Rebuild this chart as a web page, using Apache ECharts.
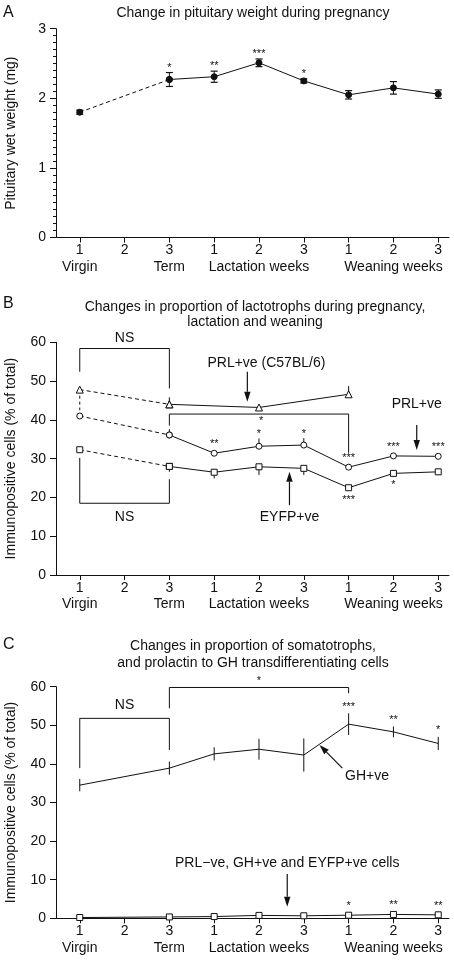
<!DOCTYPE html>
<html><head><meta charset="utf-8">
<script src="https://cdn.jsdelivr.net/npm/echarts@6/dist/echarts.min.js"></script>
<style>html,body{margin:0;padding:0;background:#fff}#c{width:454px;height:960px}</style>
</head><body><div id="c"></div>
<script>
// ---------- data ----------
const xTickNumbers = ['1','2','3','1','2','3','1','2','3'];
const phaseLabels = ['Virgin','','Term','','Lactation weeks','','','Weaning weeks',''];
// Panel A
const pituitaryWeight = [1.80, null, 2.27, 2.31, 2.51, 2.25, 2.05, 2.15, 2.06];
const pituitaryErr    = [0.03, null, 0.10, 0.08, 0.055, 0.03, 0.06, 0.09, 0.06];
const pituitaryStars  = ['', '', '*', '**', '***', '*', '', '', ''];
// Panel B
const prlC57      = [47.8, null, 44.0, null, 43.2, null, 46.6, null, null];
const prlC57Err   = [-5.3, null, 1.8, null, 0, null, 2.1, null, null];
const prlPos      = [41.0, null, 36.1, 31.4, 33.2, 33.5, 27.8, 30.7, 30.6];
const prlPosErr   = [0, null, 1.5, 0, 2.0, 1.8, 0, 0, 0];
const prlPosStars = ['', '', '', '**', '*', '*', '***', '***', '***'];
const eyfpPos      = [32.3, null, 28.0, 26.5, 27.9, 27.5, 22.5, 26.2, 26.6];
const eyfpPosErr   = [0, null, -1.4, -1.6, -2.1, -1.7, 0, 0, -0.8];
const eyfpPosStars = ['', '', '', '', '', '', '***', '*', ''];
// Panel C
const ghPos      = [34.5, null, 38.9, 42.6, 43.8, 42.3, 50.3, 48.3, 45.3];
const ghPosErr   = [1.6, null, 1.7, 1.7, 2.7, 4.3, 2.8, 1.4, 1.7];
const ghPosStars = ['', '', '', '', '', '', '***', '**', '*'];
const transdiff      = [0.2, null, 0.35, 0.45, 0.75, 0.65, 0.8, 1.0, 0.9];
const transdiffStars = ['', '', '', '', '', '', '*', '**', '**'];

// ---------- helpers ----------
const FONT = '"Liberation Sans", Arial, Helvetica, sans-serif';
const INK = '#111';
const STAR_SIZE = 11;
const idx = xTickNumbers.map((_, i) => i);

function pts(vals, from, to) {
  const r = [];
  for (let i = from; i <= to; i++) if (vals[i] != null) r.push([i, vals[i]]);
  return r;
}
function xAxis(g) {
  return {
    type: 'value', gridIndex: g, min: -0.53, max: 8.24,
    axisLine: { show: true, onZero: false, lineStyle: { color: INK, width: 1 } },
    axisTick: { show: true, customValues: idx, length: 5, lineStyle: { color: INK, width: 1 } },
    axisLabel: {
      show: true, customValues: idx, margin: 4.5, color: INK, fontFamily: FONT, fontSize: 14, lineHeight: 17,
      showMinLabel: true, showMaxLabel: true, hideOverlap: false,
      formatter: v => xTickNumbers[Math.round(v)]
    },
    splitLine: { show: false }
  };
}
function yAxis(g, max, interval, name, minor) {
  return {
    type: 'value', gridIndex: g, min: 0, max: max, interval: interval,
    axisLine: { show: true, onZero: false, lineStyle: { color: INK, width: 1 } },
    axisTick: { show: true, length: 6, lineStyle: { color: INK, width: 1 } },
    minorTick: { show: !!minor, splitNumber: 10, length: 3, lineStyle: { color: INK, width: 1 } },
    axisLabel: { margin: 10, color: INK, fontFamily: FONT, fontSize: 14, showMinLabel: true, showMaxLabel: true },
    splitLine: { show: false }, minorSplitLine: { show: false },
    name: name, nameLocation: 'middle', nameGap: 38,
    nameTextStyle: { color: INK, fontFamily: FONT, fontSize: 14 }
  };
}
// phase words (second line of the x axis labels), placed under the tick numbers
function phaseSeries(g) {
  const data = [];
  phaseLabels.forEach((t, i) => { if (t) data.push([i, 0, i]); });
  return {
    type: 'custom', xAxisIndex: g, yAxisIndex: g, data: data, z: 5, silent: true, animation: false,
    encode: { x: 0, y: 1 },
    renderItem: (p, api) => {
      const x = api.value(0), i = api.value(2);
      const c = api.coord([x, 0]);
      return { type: 'text', style: { text: phaseLabels[i], x: c[0], y: c[1] + 29.5, align: 'center', verticalAlign: 'middle',
        fontSize: 14, fontFamily: FONT, fill: INK } };
    }
  };
}
function lineSeries(g, data, dashed, symbol, size, fill) {
  return {
    type: 'line', xAxisIndex: g, yAxisIndex: g, data: data,
    symbol: symbol || 'none', symbolSize: size, showSymbol: !!symbol,
    lineStyle: { color: INK, width: 1, type: dashed ? [4, 3] : 'solid' },
    itemStyle: { color: fill, borderColor: INK, borderWidth: 1 },
    z: 3, animation: false, silent: true
  };
}
function errSeries(g, vals, errs, opts) {
  const data = [];
  vals.forEach((v, i) => { if (v != null && errs[i]) data.push([i, v, errs[i]]); });
  return {
    type: 'custom', xAxisIndex: g, yAxisIndex: g, data: data, z: 2, silent: true, animation: false,
    encode: { x: 0, y: 1 },
    renderItem: (p, api) => {
      const x = api.value(0), v = api.value(1), e = api.value(2);
      const lo = opts.both ? v - e : v, hi = v + e;
      const a = api.coord([x, lo]), b = api.coord([x, hi]);
      const dashed = x < 2 && !opts.both;
      const ch = [{ type: 'line', shape: { x1: a[0], y1: a[1], x2: b[0], y2: b[1] },
        style: { stroke: INK, lineWidth: 1, lineDash: dashed ? [3, 3] : null } }];
      if (opts.cap) {
        [a, b].forEach(q => ch.push({ type: 'line', shape: { x1: q[0] - 3.5, y1: q[1], x2: q[0] + 3.5, y2: q[1] },
          style: { stroke: INK, lineWidth: 1.2 } }));
      }
      return { type: 'group', children: ch };
    }
  };
}
function starSeries(g, vals, errs, stars, opt) {
  const data = [];
  vals.forEach((v, i) => { if (v != null && stars[i]) data.push([i, v, errs ? (errs[i] || 0) : 0, i]); });
  return {
    type: 'custom', xAxisIndex: g, yAxisIndex: g, data: data, z: 5, silent: true, animation: false,
    encode: { x: 0, y: 1 },
    renderItem: (p, api) => {
      const x = api.value(0), v = api.value(1), e = api.value(2), i = api.value(3);
      const c = api.coord([x, v]);
      let y;
      if (opt.below) y = c[1] + opt.gapPt;
      else if (e > 0) y = api.coord([x, v + e])[1] - opt.gapErr;
      else y = c[1] - opt.gapPt;
      return { type: 'text', style: { text: stars[i], x: c[0], y: y, align: 'center', verticalAlign: 'middle',
        fontSize: STAR_SIZE, fontFamily: FONT, fill: INK } };
    }
  };
}
function annotSeries(g, items) {
  return {
    type: 'custom', xAxisIndex: g, yAxisIndex: g, data: [[0, 0]], z: 4, silent: true, animation: false,
    renderItem: (p, api) => {
      const ch = [];
      items.forEach(it => {
        if (it.kind === 'bracket') {
          const p1 = api.coord([it.x1, it.y1]), p2 = api.coord([it.x1, it.y]),
                p3 = api.coord([it.x2, it.y]), p4 = api.coord([it.x2, it.y2]);
          ch.push({ type: 'polyline', shape: { points: [p1, p2, p3, p4] }, style: { stroke: INK, lineWidth: 1, fill: null } });
        } else if (it.kind === 'arrow') {
          const a = api.coord(it.from), b = api.coord(it.to);
          const dx = b[0] - a[0], dy = b[1] - a[1], L = Math.hypot(dx, dy), ux = dx / L, uy = dy / L;
          const hl = 10, hw = 3.2;
          const base = [b[0] - ux * hl, b[1] - uy * hl];
          ch.push({ type: 'line', shape: { x1: a[0], y1: a[1], x2: base[0], y2: base[1] }, style: { stroke: INK, lineWidth: 1.2 } });
          ch.push({ type: 'polygon', shape: { points: [b, [base[0] - uy * hw, base[1] + ux * hw], [base[0] + uy * hw, base[1] - ux * hw]] },
            style: { fill: INK } });
        } else if (it.kind === 'text') {
          const c = api.coord([it.x, it.y]);
          ch.push({ type: 'text', style: { text: it.text, x: c[0], y: c[1], align: it.align || 'center', verticalAlign: 'middle',
            fontSize: it.size || 14, fontFamily: FONT, fill: INK } });
        }
      });
      return { type: 'group', children: ch };
    }
  };
}

// ---------- option ----------
const grids = [
  { left: 56, right: 5, top: 28.7, height: 208.8, outerBoundsMode: 'none', containLabel: false },
  { left: 56, right: 5, top: 342.3, height: 232.7, outerBoundsMode: 'none', containLabel: false },
  { left: 56, right: 5, top: 686.7, height: 231.6, outerBoundsMode: 'none', containLabel: false }
];

const txt = (t, x, y, size, align, lh) => ({ type: 'text', x: x, y: y, silent: true,
  style: { text: t, align: align || 'center', verticalAlign: 'middle', fontSize: size || 14, fontFamily: FONT, fill: INK, lineHeight: lh } });

const option = {
  animation: false,
  backgroundColor: '#fff',
  grid: grids,
  xAxis: [xAxis(0), xAxis(1), xAxis(2)],
  yAxis: [
    yAxis(0, 3, 1, 'Pituitary wet weight (mg)', true),
    yAxis(1, 60, 10, 'Immunopositive cells (% of total)', false),
    yAxis(2, 60, 10, 'Immunopositive cells (% of total)', false)
  ],
  graphic: [
    txt('A', 3, 13, 16, 'left'),
    txt('Change in pituitary weight during pregnancy', 253, 13.5),
    txt('B', 3, 304, 16, 'left'),
    txt('Changes in proportion of lactotrophs during pregnancy,\nlactation and weaning', 255, 315, 14, 'center', 15),
    txt('C', 3, 645, 16, 'left'),
    txt('Changes in proportion of somatotrophs,\nand prolactin to GH transdifferentiating cells', 253, 654.5, 14, 'center', 17)
  ],
  series: [
    // Panel A
    phaseSeries(0),
    errSeries(0, pituitaryWeight, pituitaryErr, { both: true, cap: true }),
    lineSeries(0, pts(pituitaryWeight, 0, 2), true, 'circle', 6, INK),
    lineSeries(0, pts(pituitaryWeight, 2, 8), false, 'circle', 6, INK),
    starSeries(0, pituitaryWeight, pituitaryErr, pituitaryStars, { gapErr: 5, gapPt: 9 }),
    // Panel B
    phaseSeries(1),
    errSeries(1, prlC57, prlC57Err, {}),
    errSeries(1, prlPos, prlPosErr, {}),
    errSeries(1, eyfpPos, eyfpPosErr, {}),
    lineSeries(1, pts(prlC57, 0, 2), true, 'triangle', 7, '#fff'),
    lineSeries(1, pts(prlC57, 2, 8), false, 'triangle', 7, '#fff'),
    lineSeries(1, pts(prlPos, 0, 2), true, 'circle', 6, '#fff'),
    lineSeries(1, pts(prlPos, 2, 8), false, 'circle', 6, '#fff'),
    lineSeries(1, pts(eyfpPos, 0, 2), true, 'rect', 6, '#fff'),
    lineSeries(1, pts(eyfpPos, 2, 8), false, 'rect', 6, '#fff'),
    starSeries(1, prlPos, prlPosErr, prlPosStars, { gapErr: 4.5, gapPt: 9 }),
    starSeries(1, eyfpPos, eyfpPosErr, eyfpPosStars, { below: true, gapPt: 12 }),
    annotSeries(1, [
      { kind: 'bracket', x1: 0, x2: 2, y: 58.4, y1: 52.4, y2: 48.1 },
      { kind: 'text', x: 1, y: 61, text: 'NS' },
      { kind: 'bracket', x1: 0, x2: 2, y: 18.5, y1: 30.2, y2: 24.7 },
      { kind: 'text', x: 1, y: 15, text: 'NS' },
      { kind: 'bracket', x1: 2, x2: 6, y: 41.5, y1: 38.5, y2: 31.5 },
      { kind: 'text', x: 4.05, y: 39.6, text: '*', size: STAR_SIZE },
      { kind: 'text', x: 2.85, y: 54.7, text: 'PRL+ve (C57BL/6)', align: 'left' },
      { kind: 'arrow', from: [3.74, 52.4], to: [3.74, 44.7] },
      { kind: 'text', x: 7.52, y: 44.0, text: 'PRL+ve' },
      { kind: 'arrow', from: [7.52, 38.7], to: [7.52, 32.2] },
      { kind: 'text', x: 4.68, y: 15, text: 'EYFP+ve' },
      { kind: 'arrow', from: [4.68, 18], to: [4.68, 26.6] }
    ]),
    // Panel C
    phaseSeries(2),
    errSeries(2, ghPos, ghPosErr, { both: true }),
    lineSeries(2, pts(ghPos, 0, 8), false, null, 0, INK),
    lineSeries(2, pts(transdiff, 0, 8), false, 'rect', 6, '#fff'),
    starSeries(2, ghPos, ghPosErr, ghPosStars, { gapErr: 6.7, gapPt: 9 }),
    starSeries(2, transdiff, null, transdiffStars, { gapErr: 9, gapPt: 9 }),
    annotSeries(2, [
      { kind: 'bracket', x1: 0, x2: 2, y: 51.8, y1: 38.9, y2: 43.6 },
      { kind: 'text', x: 1, y: 55.3, text: 'NS' },
      { kind: 'bracket', x1: 2, x2: 6, y: 59.8, y1: 54.4, y2: 58.3 },
      { kind: 'text', x: 4, y: 61.5, text: '*', size: STAR_SIZE },
      { kind: 'text', x: 6.41, y: 36.7, text: 'GH+ve' },
      { kind: 'arrow', from: [5.86, 38.9], to: [5.35, 44.9] },
      { kind: 'text', x: 4.63, y: 14.2, text: 'PRL\u2212ve, GH+ve and EYFP+ve cells' },
      { kind: 'arrow', from: [4.63, 11.5], to: [4.63, 3.0] }
    ])
  ]
};

const chart = echarts.init(document.getElementById('c'), null, { renderer: 'canvas' });
chart.setOption(option);
</script>
</body></html>
